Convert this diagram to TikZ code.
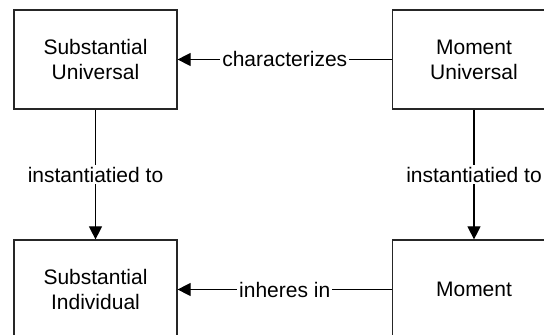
\documentclass[tikz,border=0pt]{standalone}
\usepackage{fontspec}
\setmainfont{Liberation Sans}
\usetikzlibrary{arrows.meta}
\begin{document}
\begin{tikzpicture}[x=0.5pt,y=-0.5pt,
  box/.style={draw=black!85, line width=0.6pt, minimum width=81.5pt, minimum height=49.5pt,
    align=center, inner sep=0pt, font=\fontsize{10.5}{12.5}\selectfont},
  rel/.style={draw=black, line width=0.55pt, -{Triangle[length=6.5pt,width=6.5pt]}},
  lbl/.style={fill=white, inner sep=1pt, font=\fontsize{10.5}{12.5}\selectfont}]
\useasboundingbox (0,0) rectangle (544,335);
\clip (0,0) rectangle (544,335);
% the four concepts
\node[box] (su) at (95.5,59.5) {Substantial\\Universal};
\node[box] (mu) at (474,59.5) {Moment\\Universal};
\node[box] (si) at (95.5,289.5) {Substantial\\Individual};
\node[box] (mo) at (474,289.5) {Moment};
% relations between them
\draw[rel] (mu) -- node[lbl] {characterizes} (su);
\draw[rel] (mo) -- node[lbl] {inheres in} (si);
\draw[rel] (su) -- node[lbl] {instantiatied to} (si);
\draw[rel] (mu) -- node[lbl] {instantiatied to} (mo);
\end{tikzpicture}
\end{document}
